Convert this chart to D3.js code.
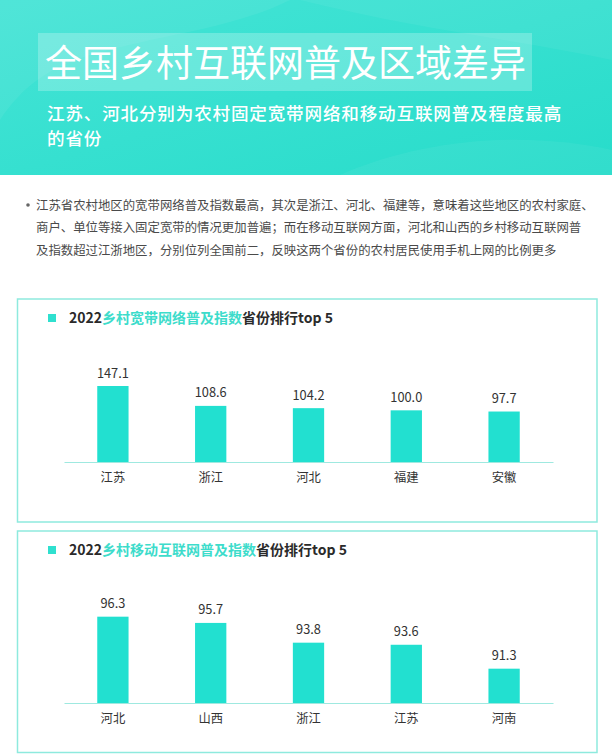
<!DOCTYPE html>
<html><head><meta charset="utf-8">
<script src="https://cdn.jsdelivr.net/npm/d3@7"></script>
<style>
html,body{margin:0;padding:0;background:#fff;}
svg{display:block;font-family:"Noto Sans CJK SC","Noto Sans",sans-serif;}
</style></head>
<body>
<svg id="c" width="612" height="754"></svg>
<script>
const pageTitle = "全国乡村互联网普及区域差异";
const subtitleLines = ["江苏、河北分别为农村固定宽带网络和移动互联网普及程度最高", "的省份"];
const bulletLines = [
  "江苏省农村地区的宽带网络普及指数最高，其次是浙江、河北、福建等，意味着这些地区的农村家庭、",
  "商户、单位等接入固定宽带的情况更加普遍；而在移动互联网方面，河北和山西的乡村移动互联网普",
  "及指数超过江浙地区，分别位列全国前二，反映这两个省份的农村居民使用手机上网的比例更多"
];
const chart1Title = ["2022", "乡村宽带网络普及指数", "省份排行top 5"];
const chart1Categories = ["江苏", "浙江", "河北", "福建", "安徽"];
const chart1Values = [147.1, 108.6, 104.2, 100.0, 97.7];
const chart2Title = ["2022", "乡村移动互联网普及指数", "省份排行top 5"];
const chart2Categories = ["河北", "山西", "浙江", "江苏", "河南"];
const chart2Values = [96.3, 95.7, 93.8, 93.6, 91.3];

const svg = d3.select("#c");
const defs = svg.append("defs");
const g1 = defs.append("linearGradient").attr("id","hdr").attr("x1","0").attr("y1","0").attr("x2","1").attr("y2","1");
g1.append("stop").attr("offset","0").attr("stop-color","#45e4d6");
g1.append("stop").attr("offset","1").attr("stop-color","#27dcca");

// header
svg.append("rect").attr("x",0).attr("y",0).attr("width",612).attr("height",175).attr("fill","url(#hdr)");
svg.append("path").attr("d","M0,0 L290,0 C250,20 200,30 150,40 C90,55 40,60 0,120 Z").attr("fill","#fff").attr("opacity",0.06);
svg.append("path").attr("d","M300,0 L612,0 L612,60 C520,40 420,30 300,0 Z").attr("fill","#fff").attr("opacity",0.05);
svg.append("path").attr("d","M340,175 C420,140 520,130 612,150 L612,175 Z").attr("fill","#fff").attr("opacity",0.05);
svg.append("rect").attr("x",38).attr("y",33).attr("width",494).attr("height",58).attr("fill","#fff").attr("opacity",0.24);
svg.append("text").attr("x",45).attr("y",77).attr("font-size",37).attr("fill","#fff").text(pageTitle);
svg.append("g").selectAll("text").data(subtitleLines).join("text")
  .attr("x",47).attr("y",(d,i)=>119.5+i*25.6).attr("font-size",17.6).attr("letter-spacing",0.8)
  .attr("font-weight",500).attr("fill","#fff").text(d=>d);

// bullet
svg.append("circle").attr("cx",28).attr("cy",205).attr("r",1.8).attr("fill","#666");
svg.append("g").selectAll("text").data(bulletLines).join("text")
  .attr("x",36).attr("y",(d,i)=>209.5+i*22.5).attr("font-size",12.4).attr("fill","#4a4a4a").text(d=>d);

function panel(top, bottom, titleParts, cats, vals, domain, y0, pxPerUnit) {
  const g = svg.append("g");
  g.append("rect").attr("x",17.5).attr("y",top).attr("width",579.5).attr("height",bottom-top)
    .attr("fill","#fff").attr("stroke","#8eeade").attr("stroke-width",1.5);
  g.append("rect").attr("x",48).attr("y",top+15).attr("width",8).attr("height",8).attr("fill","#2fe0cf");
  const t = g.append("text").attr("x",69).attr("y",top+24).attr("font-size",14).attr("font-weight",700).attr("fill","#2a2a2a");
  t.append("tspan").text(titleParts[0]);
  t.append("tspan").attr("fill","#3ddccb").text(titleParts[1]);
  t.append("tspan").text(titleParts[2]);

  const x = d3.scaleBand().domain(cats).range([64,553]).paddingInner(0.68).paddingOuter(0.34);
  const y = d3.scaleLinear().domain(domain).range([y0, y0-(domain[1]-domain[0])*pxPerUnit]);
  g.selectAll(".bar").data(vals).join("rect")
    .attr("x",(d,i)=>x(cats[i])).attr("width",x.bandwidth())
    .attr("y",d=>y(d)).attr("height",d=>y0-y(d)).attr("fill","#22e0d0");
  g.selectAll(".lbl").data(vals).join("text")
    .attr("x",(d,i)=>x(cats[i])+x.bandwidth()/2).attr("y",d=>y(d)-8.5)
    .attr("text-anchor","middle").attr("font-size",12.8).attr("fill","#333")
    .text(d=>d.toFixed(1));
  const ax = g.append("g").attr("transform",`translate(0,${y0})`)
    .call(d3.axisBottom(x).tickSize(0).tickPadding(0));
  ax.select(".domain").attr("stroke","#9fe9e0").attr("stroke-width",1.2);
  ax.selectAll("text").attr("y",16).attr("dy","0.35em").attr("font-size",12.3)
    .attr("fill","#333").attr("font-family",'"Noto Sans CJK SC",sans-serif');
}

panel(299, 522, chart1Title, chart1Categories, chart1Values, [0,200], 462, 76/147.1);
panel(531, 752.5, chart2Title, chart2Categories, chart2Values, [88,100], 703, 10.4);
</script>
</body></html>
